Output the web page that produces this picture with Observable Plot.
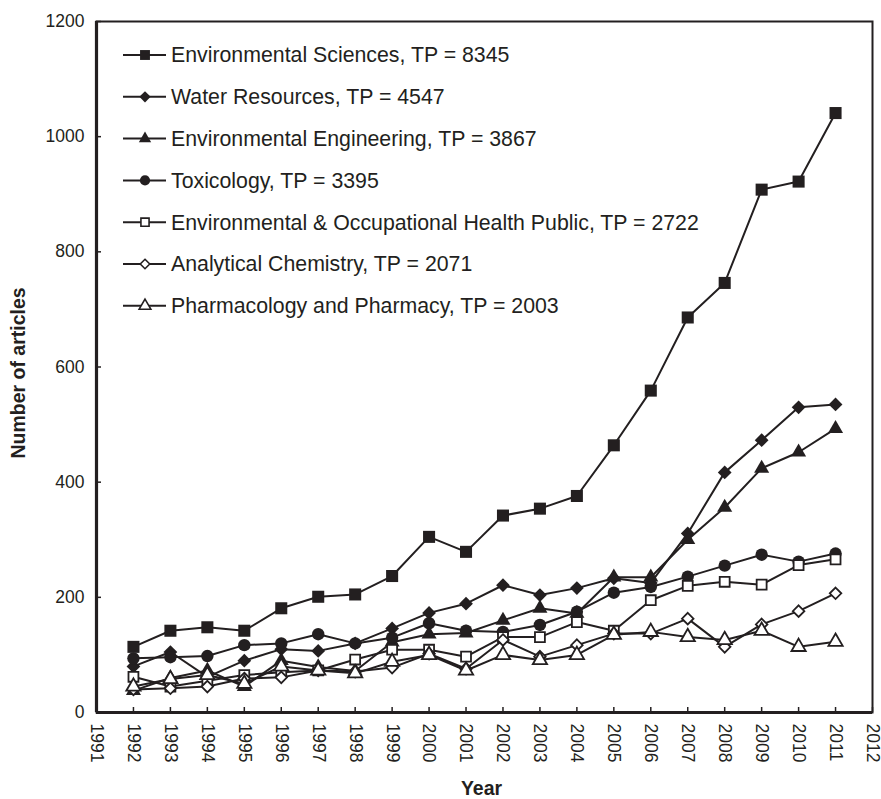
<!DOCTYPE html>
<html>
<head>
<meta charset="utf-8">
<script src="https://cdn.jsdelivr.net/npm/d3@7"></script>
<script src="https://cdn.jsdelivr.net/npm/@observablehq/plot@0.6"></script>
<style>
  html, body { margin: 0; padding: 0; background: #fff; }
  #chart { position: relative; width: 881px; height: 799px; }
</style>
</head>
<body>
<div id="chart"></div>
<script>
const years = d3.range(1992, 2012);
const xTicks = d3.range(1991, 2013);
const yTicks = [0, 200, 400, 600, 800, 1000, 1200];

const seriesNames = [
  "Environmental Sciences, TP = 8345",
  "Water Resources, TP = 4547",
  "Environmental Engineering, TP = 3867",
  "Toxicology, TP = 3395",
  "Environmental & Occupational Health Public, TP = 2722",
  "Analytical Chemistry, TP = 2071",
  "Pharmacology and Pharmacy, TP = 2003"
];

const envSciences   = [114, 142, 148, 142, 181, 201, 205, 237, 305, 279, 342, 354, 376, 464, 559, 686, 746, 908, 922, 1041];
const waterRes      = [80, 105, 62, 90, 110, 107, 120, 146, 173, 189, 221, 204, 216, 233, 225, 311, 417, 473, 530, 535];
const envEng        = [38, 60, 73, 45, 90, 79, 72, 122, 136, 138, 160, 181, 172, 235, 235, 300, 356, 424, 452, 493];
const toxicology    = [94, 96, 98, 117, 120, 136, 120, 130, 155, 142, 140, 152, 175, 208, 218, 236, 255, 274, 262, 276];
const envOccHealth  = [62, 45, 55, 65, 70, 73, 92, 109, 109, 97, 131, 131, 157, 142, 195, 220, 227, 222, 256, 266];
const analyticalChem= [40, 42, 45, 59, 61, 73, 71, 78, 102, 76, 126, 97, 117, 137, 137, 163, 114, 153, 176, 207];
const pharmacology  = [45, 58, 65, 50, 80, 73, 68, 88, 100, 73, 100, 91, 100, 135, 140, 131, 126, 142, 114, 123];

const seriesValues = [envSciences, waterRes, envEng, toxicology, envOccHealth, analyticalChem, pharmacology];
const seriesSymbols = ["square", "diamond2", "triangle", "circle", "square", "diamond2", "triangle"];
const seriesFilled = [true, true, true, true, false, false, false];
const seriesR = [6.8, 6.2, 5.6, 6.2, 5.6, 5.2, 5.3];

const rows = [];
seriesNames.forEach((name, i) => {
  seriesValues[i].forEach((v, j) => rows.push({series: name, idx: i, year: years[j], value: v}));
});

const font = "'Liberation Sans', Arial, Helvetica, sans-serif";

const marks = [
  Plot.frame({stroke: "#231f20", strokeWidth: 2}),
  Plot.ruleY([0], {stroke: "#231f20", strokeWidth: 3.2}),
  Plot.ruleX([1991], {stroke: "#231f20", strokeWidth: 3.2}),
  Plot.axisX({ticks: xTicks, tickSize: 5, dy: -5, fill: "none", stroke: "#231f20", strokeWidth: 1.5, label: null}),
  Plot.axisX({ticks: xTicks, tickSize: 0, tickPadding: 11, tickRotate: 90, tickFormat: d => String(d), label: null, fill: "#231f20"}),
  Plot.axisY({ticks: yTicks, tickSize: 5, dx: 5, fill: "none", stroke: "#231f20", strokeWidth: 1.5, label: null}),
  Plot.axisY({ticks: yTicks, tickSize: 0, tickPadding: 12, tickFormat: d => String(d), label: null, fill: "#231f20"}),
  Plot.text(["Number of articles"], {frameAnchor: "left", textAnchor: "middle", lineAnchor: "middle", rotate: -90, dx: -78, dy: 6, fontWeight: "bold", fontSize: 19.5, fill: "#231f20"}),
  Plot.text(["Year"], {frameAnchor: "bottom", textAnchor: "middle", lineAnchor: "middle", dy: 76, dx: -3, fontWeight: "bold", fontSize: 19.5, fill: "#231f20"})
];

seriesNames.forEach((name, i) => {
  const data = rows.filter(d => d.idx === i);
  marks.push(Plot.line(data, {x: "year", y: "value", stroke: "#231f20", strokeWidth: 2}));
  marks.push(Plot.dot(data, {
    x: "year", y: "value", symbol: () => seriesSymbols[i], r: seriesR[i],
    fill: seriesFilled[i] ? "#231f20" : "white",
    stroke: "#231f20", strokeWidth: seriesFilled[i] ? 0 : 1.8
  }));
});

const chart = Plot.plot({
  width: 881,
  height: 799,
  marginLeft: 96,
  marginRight: 9,
  marginTop: 21,
  marginBottom: 87,
  style: {fontFamily: font, fontSize: "17.5px", color: "#231f20", background: "white", overflow: "visible"},
  x: {type: "linear", domain: [1991, 2012], axis: null},
  y: {domain: [0, 1200], axis: null},
  symbol: {type: "identity"},
  marks
});

// Legend inside the plot area (top-left)
const svg = d3.select(chart);
const legend = svg.append("g").attr("font-family", font).attr("font-size", "21.3px")
  .attr("fill", "#231f20").attr("text-anchor", "start");
const sym = {square: d3.symbolSquare, diamond2: d3.symbolDiamond2, triangle: d3.symbolTriangle, circle: d3.symbolCircle};
seriesNames.forEach((name, i) => {
  const cy = 55 + i * 41.8;
  const g = legend.append("g").attr("transform", `translate(0,${cy})`);
  g.append("line").attr("x1", 123).attr("x2", 166).attr("y1", 0).attr("y2", 0)
    .attr("stroke", "#231f20").attr("stroke-width", 2);
  const r = seriesR[i] * 0.82;
  g.append("path").attr("transform", "translate(145,0)")
    .attr("d", d3.symbol(sym[seriesSymbols[i]], Math.PI * r * r)())
    .attr("fill", seriesFilled[i] ? "#231f20" : "white")
    .attr("stroke", seriesFilled[i] ? "none" : "#231f20")
    .attr("stroke-width", 1.6);
  g.append("text").attr("x", 171).attr("y", 0).attr("dy", "0.35em").attr("text-anchor", "start").text(name);
});

document.getElementById("chart").appendChild(chart);
</script>
</body>
</html>
